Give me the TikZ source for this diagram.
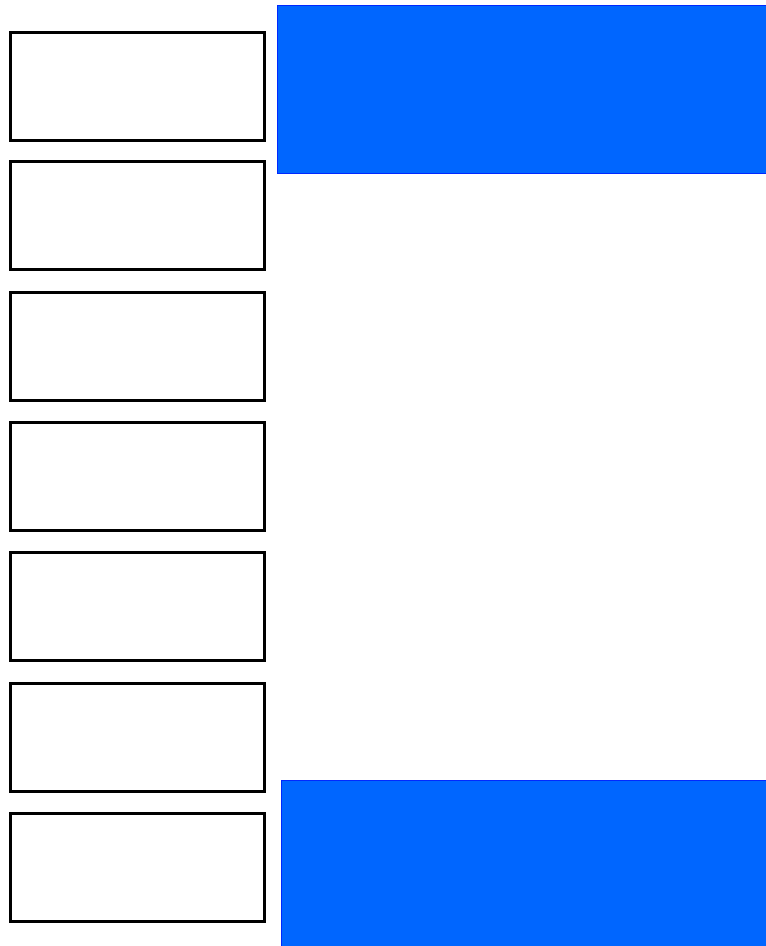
\documentclass[tikz,border=0pt]{standalone}
\begin{document}
\begin{tikzpicture}[x=1pt,y=-1pt,
  slot/.style={draw=black,line width=3pt,fill=white,minimum width=254pt,minimum height=108pt,inner sep=0pt,outer sep=0pt,anchor=north west},
  band/.style={draw={rgb,255:red,0;green,40;blue,255},line width=1pt,fill={rgb,255:red,0;green,102;blue,255},inner sep=0pt,outer sep=0pt,anchor=north west}]
\useasboundingbox[fill=white] (0,0) rectangle (766,946);
\node[slot] (b1) at (10,32) {};
\node[slot] (b2) at (10,161) {};
\node[slot] (b3) at (10,292) {};
\node[slot] (b4) at (10,422) {};
\node[slot] (b5) at (10,552) {};
\node[slot] (b6) at (10,683) {};
\node[slot] (b7) at (10,813) {};
\node[band,minimum width=490pt,minimum height=168pt] (top) at (277.5,5.5) {};
\node[band,minimum width=486pt,minimum height=167pt] (bot) at (281.5,780.5) {};
\end{tikzpicture}
\end{document}
